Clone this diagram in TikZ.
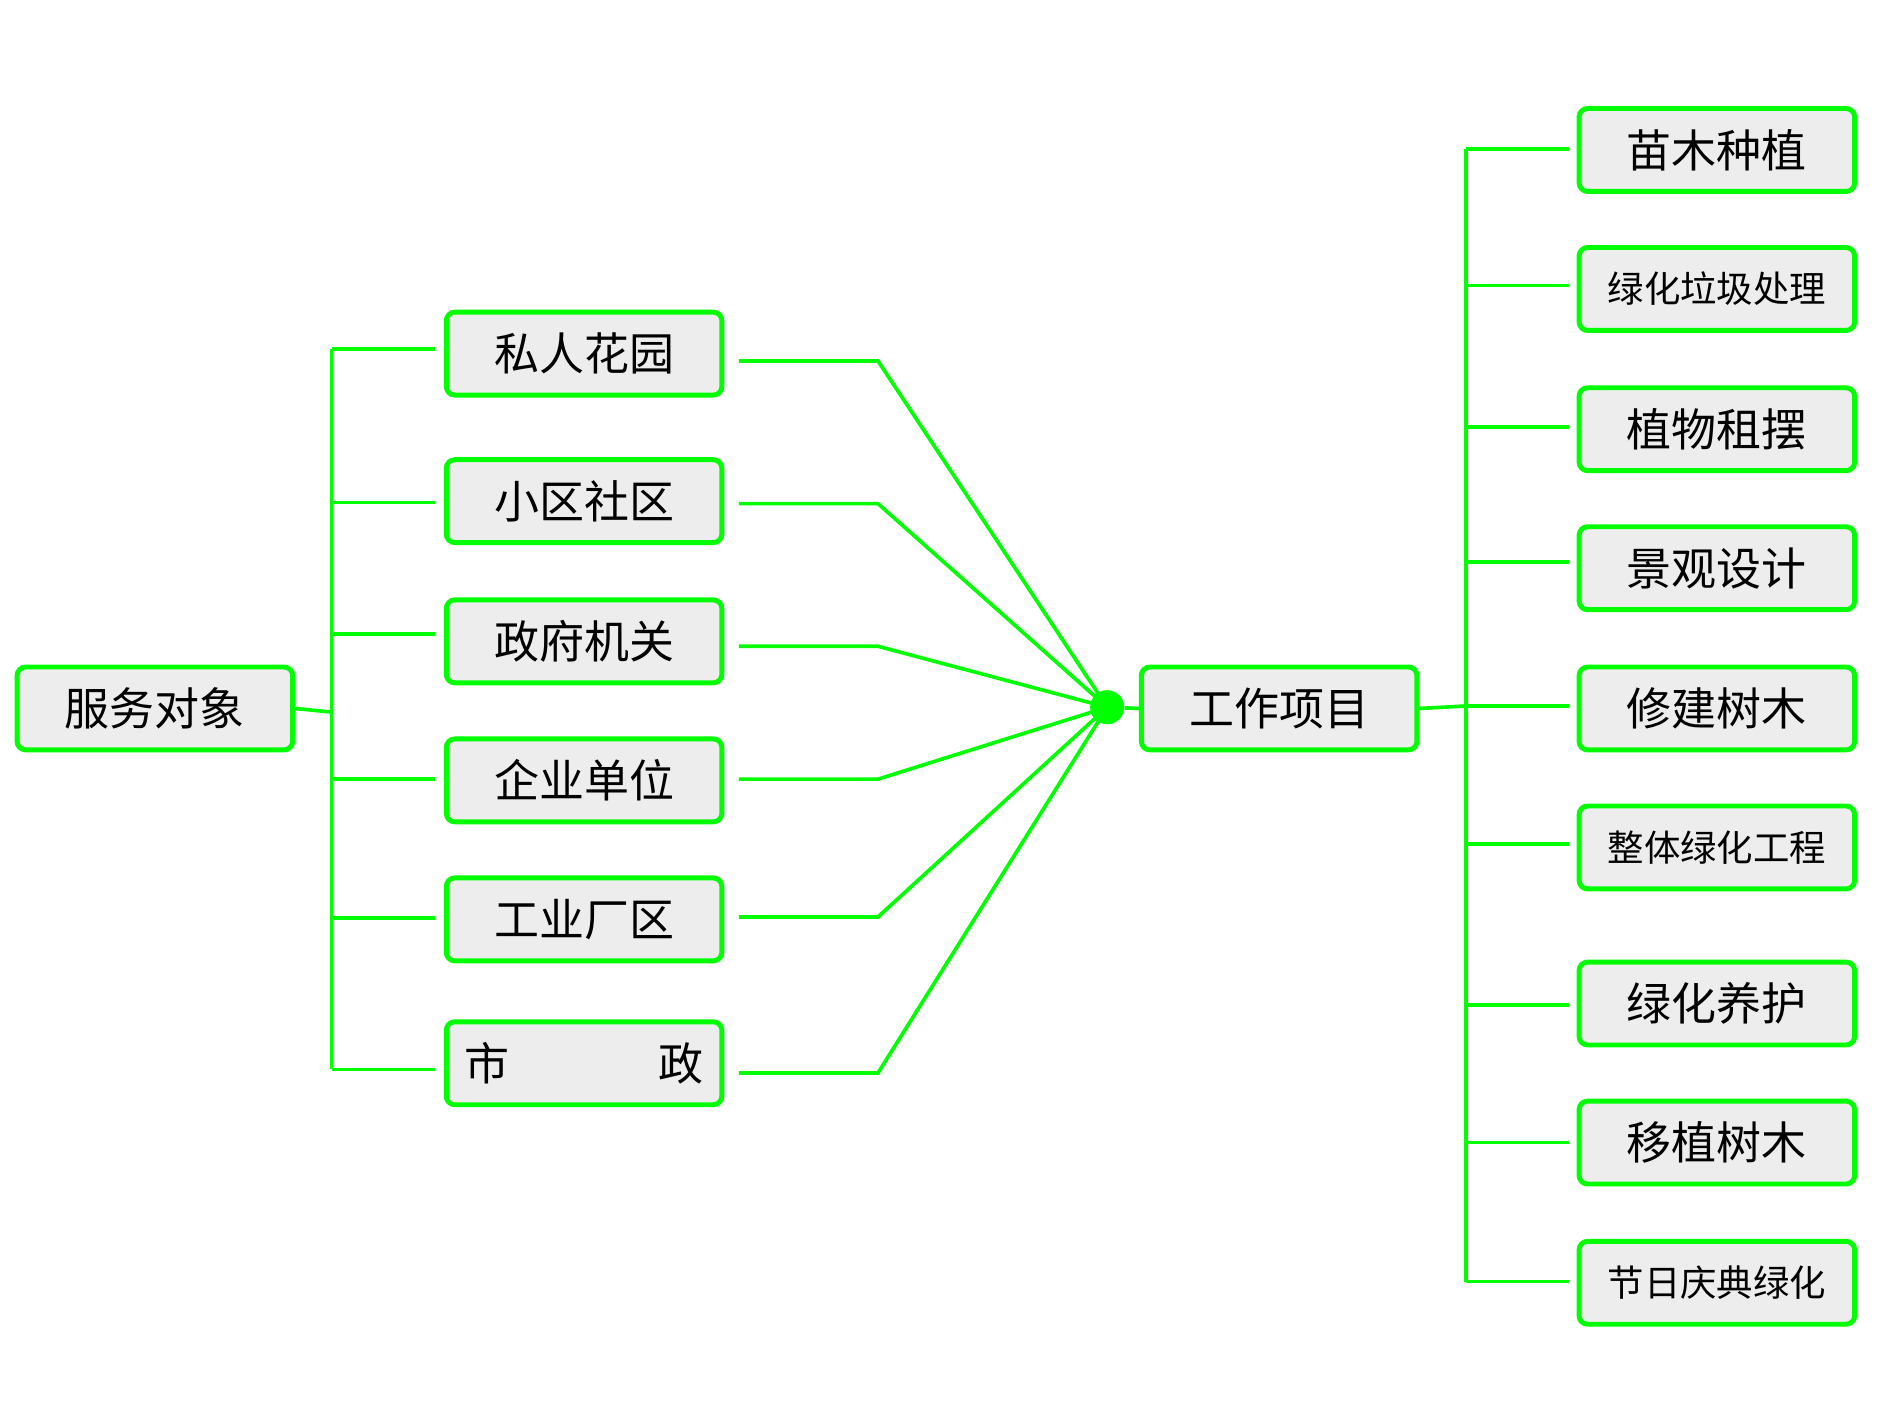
\documentclass[tikz,border=0pt]{standalone}
\usepackage{fontspec}
\setmainfont{Noto Sans CJK SC}
\begin{document}
\begin{tikzpicture}[x=0.02cm,y=-0.02cm,
 box/.style={draw=green, fill=gray!14, line width=2.3pt, rounded corners=4pt, minimum width=226*0.02cm, minimum height=68*0.02cm, inner sep=0pt, font=\fontsize{21}{24}\selectfont},
 sm/.style={font=\fontsize{17}{20}\selectfont},
 ln/.style={draw=green, line width=1.7pt}]
\useasboundingbox (0,0) rectangle (1550,1162);
\node[box] (root) at (127,581) {服务对象};
\node[box] (l1) at (479,290) {私人花园};
\node[box] (l2) at (479,411) {小区社区};
\node[box] (l3) at (479,526) {政府机关};
\node[box] (l4) at (479,640) {企业单位};
\node[box] (l5) at (479,754) {工业厂区};
\node[box] (l6) at (479,872) {市\hspace{3.3em}政};
\node[circle, fill=green, inner sep=0pt, minimum size=28*0.02cm] (dot) at (908,580) {};
\node[box] (w) at (1049,581) {工作项目};
\node[box] (r1) at (1408,123) {苗木种植};
\node[box,sm] (r2) at (1408,237) {绿化垃圾处理};
\node[box] (r3) at (1408,352) {植物租摆};
\node[box] (r4) at (1408,466) {景观设计};
\node[box] (r5) at (1408,581) {修建树木};
\node[box,sm] (r6) at (1408,695) {整体绿化工程};
\node[box] (r7) at (1408,823) {绿化养护};
\node[box] (r8) at (1408,937) {移植树木};
\node[box,sm] (r9) at (1408,1052) {节日庆典绿化};
\coordinate (lb) at (272,584);
\draw[ln] (root.east) -- (lb);
\draw[ln] (272,286) -- (272,877);
\foreach \n/\y in {l1/286,l2/412,l3/520,l4/639,l5/753,l6/877}
  \draw[ln] (272,\y) -- (357,\y);
\foreach \n/\y in {l1/296,l2/413,l3/530,l4/639,l5/752,l6/880}
  \draw[ln] (606,\y) -- (720,\y) -- (dot.center);
\draw[ln] (dot) -- (w.west);
\draw[ln] (w.east) -- (1202,579);
\draw[ln] (1202,122) -- (1202,1051);
\foreach \y in {122,234,350,461,579,692,824,937,1051}
  \draw[ln] (1202,\y) -- (1287,\y);
\end{tikzpicture}
\end{document}
